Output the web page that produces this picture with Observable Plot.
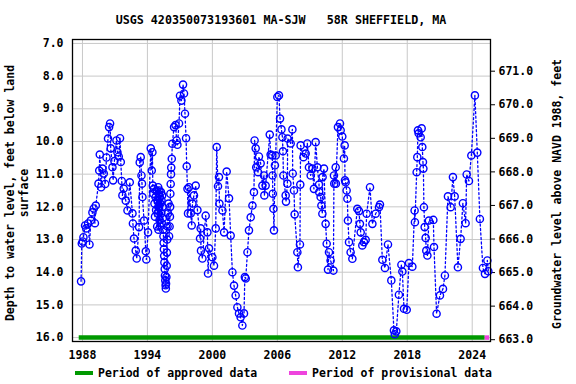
<!DOCTYPE html>
<html>
<head>
<meta charset="utf-8">
<script src="https://cdn.jsdelivr.net/npm/d3@7"></script>
<script src="https://cdn.jsdelivr.net/npm/@observablehq/plot@0.6"></script>
<style>
  html, body { margin: 0; padding: 0; background: #fff; }
  #wrap { position: relative; width: 576px; height: 384px; overflow: hidden;
          font-family: "DejaVu Sans Mono", monospace; font-weight: bold; color: #000; }
  .abs { position: absolute; white-space: pre; }
  #title { left: 72px; width: 418px; top: 13px; text-align: center; font-size: 11.7px; line-height: 14px; }
  #chart { position: absolute; left: 0; top: 30px; }
  .ylab { text-align: center; font-size: 11.5px; transform: rotate(-90deg); transform-origin: 50% 50%; }
  #ylabL { left: -132px; top: 179px; width: 300px; height: 28px; line-height: 13.5px; }
  #ylabR { left: 407px; top: 187px; width: 300px; height: 14px; line-height: 14px; }
  .sw { position: absolute; height: 4px; top: 371px; }
  .lt { font-size: 11.5px; line-height: 14px; top: 366px; }
</style>
</head>
<body>
<div id="wrap">
  <div id="title" class="abs">USGS 420350073193601 MA-SJW   58R SHEFFIELD, MA</div>
  <div id="chart"></div>
  <div id="ylabL" class="abs ylab">Depth to water level, feet below land
surface</div>
  <div id="ylabR" class="abs ylab">Groundwater level above NAVD 1988, feet</div>
  <div class="sw" style="left:75px;width:18px;background:#009900"></div>
  <div class="abs lt" style="left:98px">Period of approved data</div>
  <div class="sw" style="left:289px;width:18px;background:#ee44dd"></div>
  <div class="abs lt" style="left:312px">Period of provisional data</div>
</div>
<script>
// ---- data (decimal year, depth to water in feet below land surface) ----
const yearObs = [
1987.87,1987.94,1988.03,1988.09,1988.24,1988.35,1988.52,1988.65,1988.77,1988.92,
1989.04,1989.15,1989.23,1989.48,1989.55,1989.60,1989.72,1989.85,1989.97,1990.10,
1990.22,1990.36,1990.46,1990.55,1990.61,1990.77,1990.83,1990.95,1991.14,1991.23,
1991.35,1991.47,1991.54,1991.63,1991.69,1991.81,1992.00,1992.16,1992.37,1992.62,
1992.66,1992.76,1992.92,1993.01,1993.23,1993.29,1993.38,1993.45,1993.50,1993.54,
1993.69,1993.85,1993.90,1994.06,1994.31,1994.40,1994.46,1994.50,
1994.55,1994.60,1994.65,1994.70,1994.75,1994.80,1994.85,1994.90,1994.92,1994.95,
1995.00,1995.02,1995.05,1995.08,1995.10,1995.12,1995.15,1995.18,1995.20,1995.25,
1995.28,1995.30,1995.33,1995.36,1995.40,1995.42,1995.45,1995.48,1995.50,1995.52,
1995.55,1995.57,1995.60,1995.62,1995.65,1995.68,1995.70,1995.72,1995.75,1995.78,
1995.80,1995.83,1995.86,1995.90,1995.95,1996.00,1996.05,1996.08,1996.10,1996.12,
1996.15,1996.18,1996.20,1996.25,1996.30,1996.46,1996.60,1996.70,1996.77,1996.92,
1997.01,1997.14,1997.29,1997.38,1997.47,1997.57,1997.63,1997.70,1997.75,1997.84,
1998.00,1998.09,1998.16,1998.30,1998.46,1998.62,1998.86,1998.92,1998.95,1999.08,
1999.38,1999.54,1999.60,1999.69,2000.00,2000.15,2000.31,2000.40,2000.52,2000.61,
2000.65,2000.93,2001.08,2001.32,2001.54,2001.69,2001.85,2002.00,2002.15,2002.31,
2002.46,2002.61,2002.77,2002.92,2003.00,2003.08,2003.24,2003.38,2003.54,2003.70,
2003.84,2003.90,2004.00,2004.05,2004.22,2004.30,2004.46,2004.62,2004.77,2004.80,
2004.92,2005.30,2005.38,2005.54,2005.56,2005.58,2005.64,2005.69,2005.78,2005.85,
2006.00,2006.15,2006.25,2006.38,2006.47,2006.52,2006.56,2006.77,2006.80,2006.93,
2006.95,2007.23,2007.39,2007.42,2007.54,2007.60,2007.85,2007.90,2008.09,2008.12,
2008.15,2008.41,2008.62,2008.77,2008.92,2009.08,2009.24,2009.38,2009.54,2009.70,
2009.85,2009.87,2010.00,2010.07,2010.16,2010.18,2010.31,2010.46,2010.56,2010.68,
2010.77,2010.92,2011.18,2011.23,2011.26,2011.39,2011.41,2011.60,2011.79,2011.85,
2012.00,2012.15,2012.22,2012.25,2012.31,2012.40,2012.47,2012.52,2012.62,2012.77,
2012.93,2013.39,2013.54,2013.63,2013.70,2013.85,2014.00,2014.16,2014.25,2014.56,
2014.78,2015.08,2015.39,2015.48,2015.70,2015.94,2016.22,2016.53,2016.77,2016.85,
2016.99,2017.23,2017.46,2017.55,2017.70,2017.95,2018.16,2018.47,2018.68,2018.71,
2018.87,2018.93,2018.99,2019.05,2019.24,2019.33,2019.39,2019.45,2019.49,2019.54,
2019.61,2019.70,2019.76,2019.86,2020.00,2020.41,2020.47,2020.71,2021.02,2021.30,
2021.48,2021.76,2022.01,2022.22,2022.38,2022.68,2022.93,2023.14,2023.39,2023.49,
2023.70,2023.92,2024.25,2024.47,2024.71,2024.99,2025.18,2025.40,2025.49
];
const depthObs = [
14.28,13.12,13.06,12.93,12.57,12.66,12.51,13.15,12.42,12.17,
12.05,12.50,11.96,11.29,10.89,10.40,11.40,10.83,10.98,11.30,
10.49,9.91,9.56,9.45,10.21,10.79,11.19,10.60,9.97,10.33,
10.46,9.90,10.63,11.21,11.65,11.44,11.81,12.11,11.25,12.20,
12.51,12.97,13.34,13.58,12.62,10.64,10.48,11.04,11.29,11.70,
12.42,13.36,13.61,12.78,10.21,10.89,10.33,11.35,
11.60,11.45,11.90,12.30,11.70,12.10,11.50,12.60,11.80,12.20,
11.40,12.70,11.60,12.00,11.50,12.40,11.70,12.60,11.90,11.55,
12.20,11.80,12.50,11.65,12.00,12.35,12.70,12.90,13.10,13.30,
13.50,13.70,13.90,14.10,14.25,14.40,14.50,14.35,14.15,13.80,
13.40,13.00,12.60,12.20,11.90,12.90,12.60,12.30,12.00,11.60,
11.30,11.00,10.80,10.53,10.07,9.56,9.50,9.97,10.10,9.45,
8.60,8.75,8.26,8.53,9.15,9.90,10.76,11.45,12.20,11.40,
12.20,12.57,11.90,11.65,11.35,12.10,12.97,12.66,13.34,13.58,
12.27,12.78,14.04,13.27,13.54,13.80,12.66,10.17,11.37,11.09,
11.90,12.11,12.78,10.92,11.74,12.88,14.00,14.41,14.71,15.07,
15.26,15.38,15.63,15.26,14.15,14.19,13.39,12.72,12.32,11.96,
11.55,9.97,10.21,10.79,10.94,10.46,10.67,11.35,11.04,11.65,
11.35,9.79,10.40,10.43,11.04,11.60,12.06,12.72,10.73,10.43,
8.64,8.59,9.30,9.63,9.87,10.30,11.04,11.65,11.84,11.29,
9.91,10.06,9.63,10.98,11.50,12.23,13.39,13.85,13.15,11.32,
10.12,10.48,10.37,10.06,10.79,11.04,10.83,11.45,10.02,10.79,
11.32,11.55,11.70,11.96,12.21,11.09,10.83,12.52,13.13,13.92,
13.39,13.64,13.95,11.04,11.29,10.79,11.29,9.56,9.45,9.66,
9.85,10.52,10.12,11.19,11.25,11.50,11.75,12.42,13.08,13.39,
13.59,12.06,12.13,12.52,12.78,13.18,13.08,13.01,12.21,11.40,
12.52,12.21,12.01,11.93,13.62,13.87,13.15,14.25,15.78,15.90,
15.81,14.69,13.77,13.98,15.12,15.15,13.72,13.83,12.11,12.47,
10.94,10.48,9.66,9.75,9.87,9.60,10.17,10.63,10.83,12.01,
12.62,12.95,13.34,13.49,12.42,12.40,13.23,15.27,14.71,14.51,
14.10,11.68,12.01,11.09,11.68,13.85,12.98,11.89,12.50,11.01,
11.21,10.43,8.59,10.34,12.37,13.87,14.05,13.64,13.97
];
const yearTicks = [1988, 1994, 2000, 2006, 2012, 2018, 2024];
const depthTicks = [7, 8, 9, 10, 11, 12, 13, 14, 15, 16];
const elevTicks = [663, 664, 665, 666, 667, 668, 669, 670, 671];
const periodStart = [1987.7, 2025.2];
const periodEnd = [2025.2, 2025.6];
const periodKind = ["approved", "provisional"];

// ---- build ----
const obs = yearObs.map((t, i) => ({t, d: depthObs[i]}));
const periods = periodStart.map((s, i) => ({s, e: periodEnd[i], k: periodKind[i]}));
// right axis mapping
const e0 = 663, d0 = 16.065, slope = 1.0269;
const elevToDepth = e => d0 - (e - e0) * slope;
const depthToElev = d => e0 + (d0 - d) / slope;

const blue = "#0000ff";
const plot = Plot.plot({
  width: 576,
  height: 336,
  marginLeft: 72,
  marginRight: 86,
  marginTop: 9,
  marginBottom: 25,
  style: {fontFamily: "'DejaVu Sans Mono', monospace", fontSize: "11.5px", fontWeight: "bold", color: "#000", background: "transparent"},
  x: {domain: [1987.08, 2025.69], label: null},
  y: {domain: [6.88, 16.12], reverse: true, label: null},
  marks: [
    Plot.gridX(yearTicks, {stroke: "#c8c8c8", strokeOpacity: 1, strokeWidth: 1}),
    Plot.gridY(depthTicks, {stroke: "#c8c8c8", strokeOpacity: 1, strokeWidth: 1}),
    Plot.axisX(yearTicks, {tickSize: 0, tickPadding: 9, tickFormat: d => String(d), label: null}),
    Plot.axisY(depthTicks, {tickSize: 0, tickPadding: 9, tickFormat: d => d.toFixed(1), label: null}),
    Plot.axisY(elevTicks.map(elevToDepth), {anchor: "right", tickSize: 4, tickPadding: 4,
      tickFormat: d => depthToElev(d).toFixed(1), label: null}),
    Plot.ruleY(periods, {y: () => 16, x1: "s", x2: "e",
      stroke: p => p.k === "approved" ? "#009900" : "#ee44dd", strokeWidth: 4.5, strokeLinecap: "butt"}),
    Plot.line(obs, {x: "t", y: "d", stroke: blue, strokeWidth: 1.3, strokeDasharray: "2,2.5"}),
    Plot.dot(obs, {x: "t", y: "d", r: 3.6, stroke: blue, strokeWidth: 1.4, fill: "none"}),
    Plot.frame({stroke: "#000", strokeWidth: 1.3})
  ]
});
document.getElementById("chart").appendChild(plot);
</script>
</body>
</html>
